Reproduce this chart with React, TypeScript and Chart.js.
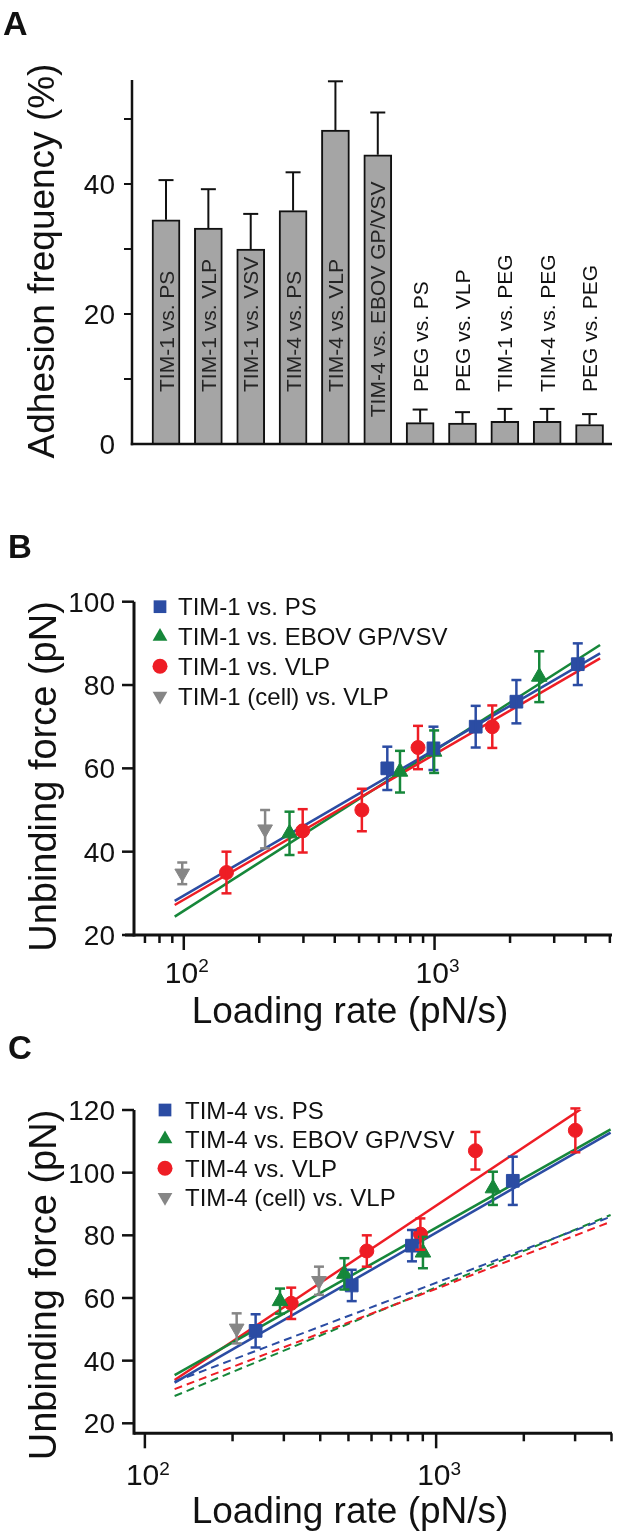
import React, { useEffect, useRef } from 'react';
import { Chart, registerables } from 'chart.js';

Chart.register(...registerables);

const FONT = '"Liberation Sans", Arial, Helvetica, sans-serif';
const INK = '#111111';
const BLUE = '#2b4ca3';
const GREEN = '#16873a';
const RED = '#ee1d25';
const GRAY = '#868686';
const BAR_FILL = '#a5a5a5';

// ---------------- Panel A: adhesion frequency ----------------
const adhesionLabels = [
  'TIM-1 vs. PS', 'TIM-1 vs. VLP', 'TIM-1 vs. VSV', 'TIM-4 vs. PS', 'TIM-4 vs. VLP',
  'TIM-4 vs. EBOV GP/VSV', 'PEG vs. PS', 'PEG vs. VLP', 'TIM-1 vs. PEG', 'TIM-4 vs. PEG', 'PEG vs. PEG',
];
const adhesionSlots = [1, 2, 3, 4, 5, 6, 7, 8, 9, 10, 11];
const adhesionMeans = [34.5, 33.2, 30.0, 35.9, 48.3, 44.5, 3.3, 3.2, 3.5, 3.5, 3.0];
const adhesionErrors = [6.1, 6.0, 5.4, 5.9, 7.5, 6.5, 2.0, 1.7, 1.9, 1.9, 1.6];
const adhesionTicks = [0, 10, 20, 30, 40, 50];
const adhesionTickLabels = ['0', '', '20', '', '40', ''];

// ---------------- Panel B: TIM-1 ----------------
const tim1PsRate = [648, 990, 1459, 2120, 3725];
const tim1PsForce = [60, 64.8, 70, 76, 85];
const tim1PsErr = [5.2, 5.2, 5, 5.2, 5];
const tim1EbovRate = [264, 728, 996, 2615];
const tim1EbovForce = [44.4, 59.2, 64, 82];
const tim1EbovErr = [5.2, 5, 5.1, 6.1];
const tim1VlpRate = [148, 298, 513, 859, 1699];
const tim1VlpForce = [35, 45, 50, 65, 70];
const tim1VlpErr = [5, 5.2, 5.1, 5.2, 5.1];
const tim1CellRate = [98.6, 211];
const tim1CellForce = [34.8, 45.4];
const tim1CellErr = [2.6, 4.6];
const fitRateB = [92, 4571];
const fitTim1Ps = [28.2, 87.6];
const fitTim1Vlp = [27.2, 86.4];
const fitTim1Ebov = [24.4, 89.6];
const forceTicksB = [20, 40, 60, 80, 100];
const rateMinorB = [70, 80, 90, 200, 300, 400, 500, 600, 700, 800, 900, 2000, 3000, 4000, 5000];

// ---------------- Panel C: TIM-4 ----------------
const tim4PsRate = [240, 513, 826, 1833];
const tim4PsForce = [49.5, 64, 76.7, 97.4];
const tim4PsErr = [5.3, 5, 5, 7.7];
const tim4EbovRate = [291, 484, 901, 1567];
const tim4EbovForce = [59, 67.7, 74.5, 95];
const tim4EbovErr = [4, 5, 5, 5.3];
const tim4VlpRate = [318, 578, 883, 1364, 3006];
const tim4VlpForce = [58.3, 75, 80.4, 107, 113.5];
const tim4VlpErr = [5, 5, 5, 6, 7];
const tim4CellRate = [206.6, 396];
const tim4CellForce = [50.3, 65.5];
const tim4CellErr = [4.8, 4.5];
const fitRateC = [126.5, 3972];
const fitTim4Vlp = [33.8, 126.6];
const fitTim4Ebov = [35.4, 113.8];
const fitTim4Ps = [33.0, 112.8];
const dashTim4Ps = [33.3, 85.9];
const dashTim4Vlp = [30.9, 84.3];
const dashTim4Ebov = [28.7, 86.5];
const forceTicksC = [20, 40, 60, 80, 100, 120];
const rateMinorC = [200, 300, 400, 500, 600, 700, 800, 900, 2000, 3000, 4000];

const rateMajor = [100, 1000];
const rateExponents = ['2', '3'];

// ---------------- helpers ----------------
function seg(ctx: CanvasRenderingContext2D, x1: number, y1: number, x2: number, y2: number) {
  ctx.beginPath();
  ctx.moveTo(x1, y1);
  ctx.lineTo(x2, y2);
  ctx.stroke();
}

function drawMarker(ctx: CanvasRenderingContext2D, shape: string, rotation: number, x: number, y: number, r: number, color: string) {
  ctx.fillStyle = color;
  ctx.beginPath();
  if (shape === 'rect') {
    const s = r * Math.SQRT1_2;
    ctx.rect(x - s, y - s, 2 * s, 2 * s);
  } else if (shape === 'circle') {
    ctx.arc(x, y, r, 0, Math.PI * 2);
  } else {
    const d = rotation === 180 ? -1 : 1;
    ctx.moveTo(x, y - d * r);
    ctx.lineTo(x + 0.866 * r, y + d * 0.5 * r);
    ctx.lineTo(x - 0.866 * r, y + d * 0.5 * r);
    ctx.closePath();
  }
  ctx.fill();
}

function ChartCanvas({ top, width, height, build }: { top: number; width: number; height: number; build: () => any }) {
  const ref = useRef<HTMLCanvasElement>(null);
  useEffect(() => {
    const chart = new Chart(ref.current as HTMLCanvasElement, build());
    return () => chart.destroy();
  }, []);
  return (
    <canvas
      ref={ref}
      width={width}
      height={height}
      style={{ position: 'absolute', left: 0, top, width, height }}
    />
  );
}

// ---------------- Panel A config ----------------
function buildPanelA() {
  const W = 622;
  const H = 500;
  const area = { left: 132, top: 80, right: 612, bottom: 444 };
  const plugin = {
    id: 'panelA',
    afterDatasetsDraw(chart: any) {
      const { ctx, chartArea: a } = chart;
      const y = chart.scales.y;
      const meta = chart.getDatasetMeta(0);
      ctx.save();
      ctx.strokeStyle = INK;
      ctx.lineWidth = 2;
      meta.data.forEach((bar: any, i: number) => {
        const yb = y.getPixelForValue(adhesionMeans[i]);
        const yt = y.getPixelForValue(adhesionMeans[i] + adhesionErrors[i]);
        seg(ctx, bar.x, yb, bar.x, yt);
        seg(ctx, bar.x - 7.5, yt, bar.x + 7.5, yt);
      });
      ctx.font = `21px ${FONT}`;
      const baseBottom = y.getPixelForValue(8);
      meta.data.forEach((bar: any, i: number) => {
        const text = adhesionLabels[i];
        const tw = ctx.measureText(text).width;
        const topPx = y.getPixelForValue(adhesionMeans[i]);
        let bottom = baseBottom;
        if (topPx < baseBottom && baseBottom - tw < topPx + 6) bottom = (topPx + a.bottom) / 2 + tw / 2;
        ctx.save();
        ctx.translate(bar.x + 7.5, bottom);
        ctx.rotate(-Math.PI / 2);
        ctx.fillStyle = topPx < baseBottom ? '#252525' : INK;
        ctx.textAlign = 'left';
        ctx.textBaseline = 'alphabetic';
        ctx.fillText(text, 0, 0);
        ctx.restore();
      });
      // axes
      ctx.lineWidth = 2.5;
      ctx.strokeStyle = INK;
      seg(ctx, a.left, a.top, a.left, a.bottom + 1.25);
      seg(ctx, a.left - 1.25, a.bottom, a.right, a.bottom);
      ctx.lineWidth = 2;
      ctx.fillStyle = INK;
      ctx.font = `28px ${FONT}`;
      ctx.textAlign = 'right';
      ctx.textBaseline = 'alphabetic';
      adhesionTicks.forEach((v, i) => {
        const py = y.getPixelForValue(v);
        if (v !== 0) seg(ctx, a.left - 8, py, a.left, py);
        if (adhesionTickLabels[i]) ctx.fillText(adhesionTickLabels[i], a.left - 17, py + 10);
      });
      // y title
      ctx.save();
      ctx.translate(54, 261);
      ctx.rotate(-Math.PI / 2);
      ctx.textAlign = 'center';
      ctx.font = `37px ${FONT}`;
      ctx.fillText('Adhesion frequency (%)', 0, 0);
      ctx.restore();
      // panel letter
      ctx.textAlign = 'left';
      ctx.font = `bold 34px ${FONT}`;
      ctx.fillText('A', 3, 35);
      ctx.restore();
    },
  };
  return {
    type: 'bar',
    data: {
      datasets: [
        {
          data: adhesionSlots.map((x, i) => ({ x, y: adhesionMeans[i] })),
          backgroundColor: BAR_FILL,
          borderColor: INK,
          borderWidth: 2,
          barThickness: 28,
        },
      ],
    },
    options: {
      animation: false,
      responsive: false,
      devicePixelRatio: 1,
      layout: { padding: { left: area.left, top: area.top, right: W - area.right, bottom: H - area.bottom } },
      plugins: { legend: { display: false }, tooltip: { enabled: false } },
      scales: {
        x: { type: 'linear', display: false, offset: false, min: 0.197, max: 11.53 },
        y: { type: 'linear', display: false, min: 0, max: 56 },
      },
    },
    plugins: [plugin],
  };
}

// ---------------- Scatter panels ----------------
type Series = { label: string; color: string; shape: string; rotation: number; radius: number; rate: number[]; force: number[]; err: number[] };
type Fit = { color: string; dash: number[]; width: number; rate: number[]; force: number[] };

function buildScatter(spec: any) {
  const series: Series[] = spec.series;
  const fits: Fit[] = spec.fits;
  const datasets: any[] = [];
  fits.forEach((f) =>
    datasets.push({
      type: 'line',
      data: f.rate.map((x, i) => ({ x, y: f.force[i] })),
      borderColor: f.color,
      borderWidth: f.width,
      borderDash: f.dash,
      pointRadius: 0,
      fill: false,
      tension: 0,
      order: 2,
    })
  );
  series.forEach((s) =>
    datasets.push({
      type: 'scatter',
      label: s.label,
      data: s.rate.map((x, i) => ({ x, y: s.force[i] })),
      pointStyle: s.shape,
      pointRotation: s.rotation,
      pointRadius: s.radius,
      pointBackgroundColor: s.color,
      pointBorderColor: s.color,
      pointBorderWidth: 1,
      order: 1,
      errorBars: s.err,
      errColor: s.color,
    })
  );
  const plugin = {
    id: 'scatterDecor',
    afterDatasetsDraw(chart: any) {
      const { ctx, chartArea: a } = chart;
      const x = chart.scales.x;
      const y = chart.scales.y;
      ctx.save();
      // error bars
      chart.data.datasets.forEach((ds: any, di: number) => {
        if (!ds.errorBars) return;
        const meta = chart.getDatasetMeta(di);
        ctx.strokeStyle = ds.errColor;
        ctx.lineWidth = 2.5;
        meta.data.forEach((pt: any, i: number) => {
          const v = ds.data[i].y;
          const e = ds.errorBars[i];
          const y1 = y.getPixelForValue(v + e);
          const y2 = y.getPixelForValue(v - e);
          seg(ctx, pt.x, y1, pt.x, y2);
          seg(ctx, pt.x - 5, y1, pt.x + 5, y1);
          seg(ctx, pt.x - 5, y2, pt.x + 5, y2);
        });
      });
      // axes
      ctx.strokeStyle = INK;
      ctx.fillStyle = INK;
      ctx.lineWidth = 3;
      seg(ctx, a.left, a.top, a.left, a.bottom + 1.5);
      seg(ctx, spec.xAxisStart, a.bottom, a.right, a.bottom);
      ctx.lineWidth = 2.5;
      ctx.font = `28px ${FONT}`;
      ctx.textAlign = 'right';
      ctx.textBaseline = 'alphabetic';
      (spec.yTicks as number[]).forEach((v) => {
        const py = y.getPixelForValue(v);
        seg(ctx, a.left - 12, py, a.left, py);
        ctx.fillText(String(v), a.left - 19, py + 10);
      });
      rateMajor.forEach((v) => {
        const px = x.getPixelForValue(v);
        seg(ctx, px, a.bottom, px, a.bottom + 15);
      });
      (spec.xMinor as number[]).forEach((v) => {
        const px = x.getPixelForValue(v);
        seg(ctx, px, a.bottom, px, a.bottom + 8);
      });
      // x tick labels 10^n
      ctx.textAlign = 'left';
      rateMajor.forEach((v, i) => {
        const px = x.getPixelForValue(v);
        ctx.font = `30px ${FONT}`;
        const w1 = ctx.measureText('10').width;
        ctx.font = `19px ${FONT}`;
        const w2 = ctx.measureText(rateExponents[i]).width;
        const left = px + 3 - (w1 + w2) / 2;
        ctx.font = `30px ${FONT}`;
        ctx.fillText('10', left, spec.xLabelBaseline);
        ctx.font = `19px ${FONT}`;
        ctx.fillText(rateExponents[i], left + w1, spec.xLabelBaseline - spec.expRaise);
      });
      // titles
      ctx.textAlign = 'center';
      ctx.font = `37px ${FONT}`;
      ctx.fillText('Loading rate (pN/s)', 350, spec.xTitleBaseline);
      ctx.save();
      ctx.translate(56, spec.yTitleCenter);
      ctx.rotate(-Math.PI / 2);
      ctx.font = `38px ${FONT}`;
      ctx.fillText('Unbinding force (pN)', 0, 0);
      ctx.restore();
      // legend
      ctx.textAlign = 'left';
      ctx.font = `24px ${FONT}`;
      series.forEach((s, i) => {
        const cy = spec.legendTop + i * spec.legendStep;
        const r = s.shape === 'circle' ? 7.5 : s.shape === 'rect' ? 9 : 8.5;
        drawMarker(ctx, s.shape, s.rotation, spec.legendMarkerX, cy, r, s.color);
        ctx.fillStyle = INK;
        ctx.fillText(s.label, spec.legendTextX, cy + 8.6);
      });
      // panel letter
      ctx.font = `bold 33px ${FONT}`;
      ctx.fillText(spec.letter, 8, spec.letterBaseline);
      ctx.restore();
    },
  };
  return {
    type: 'scatter',
    data: { datasets },
    options: {
      animation: false,
      responsive: false,
      devicePixelRatio: 1,
      layout: {
        padding: {
          left: spec.area.left,
          top: spec.area.top,
          right: spec.width - spec.area.right,
          bottom: spec.height - spec.area.bottom,
        },
      },
      plugins: { legend: { display: false }, tooltip: { enabled: false } },
      scales: {
        x: { type: 'logarithmic', display: false, min: spec.xMin, max: spec.xMax },
        y: { type: 'linear', display: false, min: spec.yMin, max: spec.yMax },
      },
    },
    plugins: [plugin],
  };
}

function buildPanelB() {
  return buildScatter({
    width: 622,
    height: 536,
    area: { left: 134, top: 101.7, right: 617, bottom: 435 },
    xMin: 63.31,
    xMax: 5100,
    yMin: 20,
    yMax: 100,
    xAxisStart: 125,
    yTicks: forceTicksB,
    xMinor: rateMinorB,
    xLabelBaseline: 483.3,
    expRaise: 11.6,
    xTitleBaseline: 523.3,
    yTitleCenter: 276.5,
    legendMarkerX: 160,
    legendTextX: 178,
    legendTop: 106.7,
    legendStep: 29.8,
    letter: 'B',
    letterBaseline: 58.3,
    series: [
      { label: 'TIM-1 vs. PS', color: BLUE, shape: 'rect', rotation: 0, radius: 9, rate: tim1PsRate, force: tim1PsForce, err: tim1PsErr },
      { label: 'TIM-1 vs. EBOV GP/VSV', color: GREEN, shape: 'triangle', rotation: 0, radius: 9, rate: tim1EbovRate, force: tim1EbovForce, err: tim1EbovErr },
      { label: 'TIM-1 vs. VLP', color: RED, shape: 'circle', rotation: 0, radius: 7, rate: tim1VlpRate, force: tim1VlpForce, err: tim1VlpErr },
      { label: 'TIM-1 (cell) vs. VLP', color: GRAY, shape: 'triangle', rotation: 180, radius: 8.5, rate: tim1CellRate, force: tim1CellForce, err: tim1CellErr },
    ],
    fits: [
      { color: BLUE, dash: [], width: 2.5, rate: fitRateB, force: fitTim1Ps },
      { color: RED, dash: [], width: 2.5, rate: fitRateB, force: fitTim1Vlp },
      { color: GREEN, dash: [], width: 2.5, rate: fitRateB, force: fitTim1Ebov },
    ],
  });
}

function buildPanelC() {
  return buildScatter({
    width: 622,
    height: 505,
    area: { left: 134, top: 82, right: 617, bottom: 405.3 },
    xMin: 91.76,
    xMax: 4016,
    yMin: 16.81,
    yMax: 120,
    xAxisStart: 134,
    yTicks: forceTicksC,
    xMinor: rateMinorC,
    xLabelBaseline: 457,
    expRaise: 10,
    xTitleBaseline: 495.3,
    yTitleCenter: 257,
    legendMarkerX: 165,
    legendTextX: 185,
    legendTop: 82,
    legendStep: 29.1,
    letter: 'C',
    letterBaseline: 31,
    series: [
      { label: 'TIM-4 vs. PS', color: BLUE, shape: 'rect', rotation: 0, radius: 9, rate: tim4PsRate, force: tim4PsForce, err: tim4PsErr },
      { label: 'TIM-4 vs. EBOV GP/VSV', color: GREEN, shape: 'triangle', rotation: 0, radius: 9, rate: tim4EbovRate, force: tim4EbovForce, err: tim4EbovErr },
      { label: 'TIM-4 vs. VLP', color: RED, shape: 'circle', rotation: 0, radius: 7, rate: tim4VlpRate, force: tim4VlpForce, err: tim4VlpErr },
      { label: 'TIM-4 (cell) vs. VLP', color: GRAY, shape: 'triangle', rotation: 180, radius: 8.5, rate: tim4CellRate, force: tim4CellForce, err: tim4CellErr },
    ],
    fits: [
      { color: BLUE, dash: [8, 5], width: 2, rate: fitRateC, force: dashTim4Ps },
      { color: RED, dash: [8, 5], width: 2, rate: fitRateC, force: dashTim4Vlp },
      { color: GREEN, dash: [8, 5], width: 2, rate: fitRateC, force: dashTim4Ebov },
      { color: BLUE, dash: [], width: 2.5, rate: fitRateC, force: fitTim4Ps },
      { color: GREEN, dash: [], width: 2.5, rate: fitRateC, force: fitTim4Ebov },
      { color: RED, dash: [], width: 2.5, rate: fitRateC, force: fitTim4Vlp },
    ],
  });
}

export default function App() {
  return (
    <div style={{ position: 'absolute', left: 0, top: 0, width: 622, height: 1533, background: '#ffffff' }}>
      <ChartCanvas top={0} width={622} height={500} build={buildPanelA} />
      <ChartCanvas top={500} width={622} height={536} build={buildPanelB} />
      <ChartCanvas top={1028} width={622} height={505} build={buildPanelC} />
    </div>
  );
}
